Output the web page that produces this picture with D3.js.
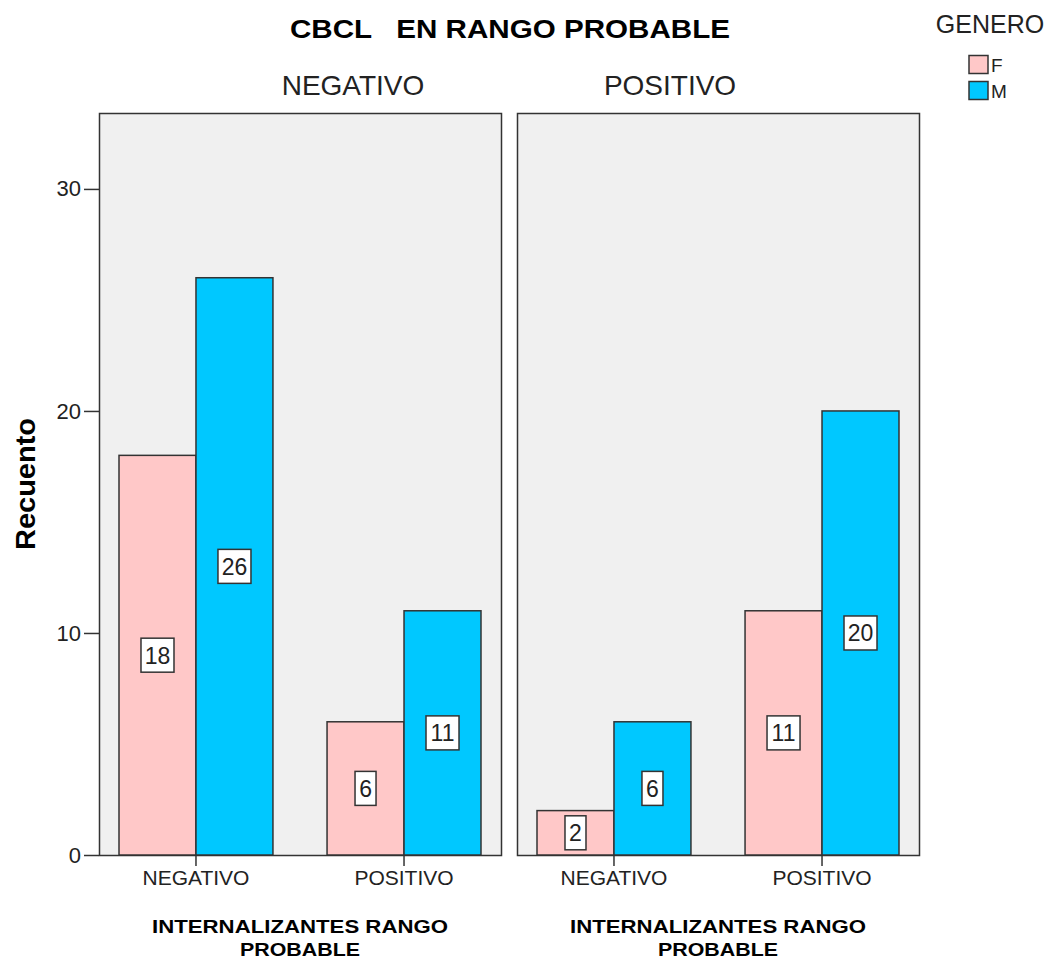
<!DOCTYPE html>
<html>
<head>
<meta charset="utf-8">
<script src="https://cdn.jsdelivr.net/npm/d3@7"></script>
<style>
  body { margin: 0; background: #fff; }
  text { font-family: Arial, "Liberation Sans", sans-serif; white-space: pre; }
</style>
</head>
<body>
<script>
// Data
let panels = ['NEGATIVO', 'POSITIVO'];          // CBCL en rango probable
let categories = ['NEGATIVO', 'POSITIVO'];      // Internalizantes rango probable
let genders = ['F', 'M'];
let valuesF = [[18, 6], [2, 11]];
let valuesM = [[26, 11], [6, 20]];
let yTicks = [0, 10, 20, 30];
let colors = {F: '#ffc8c8', M: '#00c8ff'};

let width = 1052, height = 962;
let svg = d3.select('body').append('svg')
    .attr('width', width)
    .attr('height', height);

let plotTop = 113, plotBottom = 855;
let panelX = [99, 517], panelW = 402;
let panelLabelX = [353, 670];

let y = d3.scaleLinear().domain([0, 33.42]).range([plotBottom, plotTop]);

let x0 = d3.scaleBand().domain(categories).range([20, panelW - 20]).paddingInner(0.26);
let x1 = d3.scaleBand().domain(genders).range([0, x0.bandwidth()]);

// Title
svg.append('text')
    .attr('x', 510).attr('y', 38)
    .attr('text-anchor', 'middle')
    .attr('textLength', 440).attr('lengthAdjust', 'spacingAndGlyphs')
    .style('font-size', '26px').style('font-weight', 'bold')
    .text('CBCL   EN RANGO PROBABLE');

// Legend
svg.append('text')
    .attr('x', 990).attr('y', 33)
    .attr('text-anchor', 'middle')
    .style('font-size', '25px').style('fill', '#222')
    .text('GENERO');
genders.forEach((gd, i) => {
    svg.append('rect')
        .attr('x', 969).attr('y', 55.5 + i * 26)
        .attr('width', 19).attr('height', 18)
        .attr('fill', colors[gd]).attr('stroke', '#333').attr('stroke-width', 1.5);
    svg.append('text')
        .attr('x', 991).attr('y', 72 + i * 26)
        .style('font-size', '19px').style('fill', '#222')
        .text(gd);
});

// Y axis
let yAxis = svg.append('g')
    .attr('transform', `translate(${panelX[0]},0)`)
    .call(d3.axisLeft(y).tickValues(yTicks).tickSize(15).tickPadding(3).tickSizeOuter(0))
    .attr('font-size', 22)
    .attr('font-family', null);
yAxis.select('.domain').remove();
yAxis.selectAll('line').attr('stroke', '#333').attr('stroke-width', 1.5);
yAxis.selectAll('text').style('font-size', '22px').attr('fill', '#222');

svg.append('text')
    .attr('transform', 'translate(35,484) rotate(-90)')
    .attr('text-anchor', 'middle')
    .attr('textLength', 132).attr('lengthAdjust', 'spacingAndGlyphs')
    .style('font-size', '27px').style('font-weight', 'bold')
    .text('Recuento');

panels.forEach((p, pi) => {
    let g = svg.append('g').attr('transform', `translate(${panelX[pi]},0)`);

    g.append('rect')
        .attr('x', 0.5).attr('y', plotTop + 0.5)
        .attr('width', panelW).attr('height', plotBottom - plotTop)
        .attr('fill', '#f0f0f0').attr('stroke', '#333').attr('stroke-width', 1.5);

    svg.append('text')
        .attr('x', panelLabelX[pi]).attr('y', 95)
        .attr('text-anchor', 'middle')
        .style('font-size', '28px').style('fill', '#222')
        .text(p);

    categories.forEach((c, ci) => {
        genders.forEach(gd => {
            let v = gd === 'F' ? valuesF[pi][ci] : valuesM[pi][ci];
            let bx = x0(c) + x1(gd);
            g.append('rect')
                .attr('x', bx).attr('y', y(v))
                .attr('width', x1.bandwidth()).attr('height', y(0) - y(v))
                .attr('fill', colors[gd]).attr('stroke', '#333').attr('stroke-width', 1.5);
        });
    });

    // value labels on top of bars
    categories.forEach((c, ci) => {
        genders.forEach(gd => {
            let v = gd === 'F' ? valuesF[pi][ci] : valuesM[pi][ci];
            let label = String(v);
            let bw = label.length > 1 ? 33 : 21;
            let cx = x0(c) + x1(gd) + x1.bandwidth() / 2;
            let cy = y(v / 2);
            g.append('rect')
                .attr('x', cx - bw / 2).attr('y', cy - 17)
                .attr('width', bw).attr('height', 34)
                .attr('fill', '#fff').attr('stroke', '#333').attr('stroke-width', 1.5);
            g.append('text')
                .attr('x', cx).attr('y', cy + 8.5)
                .attr('text-anchor', 'middle')
                .style('font-size', '23px').style('fill', '#222')
                .text(label);
        });
    });

    // X axis
    let xa = g.append('g')
        .attr('transform', `translate(0,${plotBottom})`)
        .call(d3.axisBottom(x0).tickSize(11).tickPadding(4).tickSizeOuter(0))
        .attr('font-size', 21)
        .attr('font-family', null);
    xa.select('.domain').remove();
    xa.selectAll('line').attr('stroke', '#333').attr('stroke-width', 1.5);
    xa.selectAll('text').attr('dy', '0.71em').attr('fill', '#222');

    g.append('text')
        .attr('x', panelW / 2).attr('y', 933)
        .attr('text-anchor', 'middle')
        .attr('textLength', 296).attr('lengthAdjust', 'spacingAndGlyphs')
        .style('font-size', '19px').style('font-weight', 'bold')
        .text('INTERNALIZANTES RANGO');
    g.append('text')
        .attr('x', panelW / 2).attr('y', 956)
        .attr('text-anchor', 'middle')
        .attr('textLength', 120).attr('lengthAdjust', 'spacingAndGlyphs')
        .style('font-size', '19px').style('font-weight', 'bold')
        .text('PROBABLE');
});
</script>
</body>
</html>
